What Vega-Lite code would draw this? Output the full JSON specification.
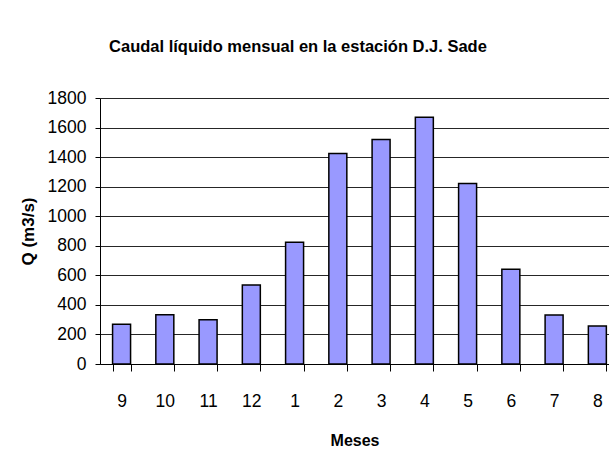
{
  "$schema": "https://vega.github.io/schema/vega-lite/v6.json",
  "width": 509,
  "height": 266,
  "autosize": {"type": "none"},
  "padding": {"left": 100, "top": 98, "right": 0, "bottom": 108},
  "background": "white",
  "title": {
    "text": "Caudal líquido mensual en la estación D.J. Sade",
    "font": "Liberation Sans",
    "fontSize": 16.5,
    "fontWeight": "bold",
    "color": "black",
    "anchor": "middle",
    "frame": "group",
    "baseline": "alphabetic",
    "dx": -56.5,
    "offset": 21
  },
  "data": {
    "values": [
      {"mes": "9", "q": 269},
      {"mes": "10", "q": 334},
      {"mes": "11", "q": 300},
      {"mes": "12", "q": 535},
      {"mes": "1", "q": 824},
      {"mes": "2", "q": 1425},
      {"mes": "3", "q": 1520},
      {"mes": "4", "q": 1669},
      {"mes": "5", "q": 1222},
      {"mes": "6", "q": 641},
      {"mes": "7", "q": 332},
      {"mes": "8", "q": 257}
    ]
  },
  "mark": {"type": "bar", "fill": "#9999ff", "stroke": "black", "strokeWidth": 1.5},
  "encoding": {
    "x": {
      "field": "mes",
      "type": "nominal",
      "sort": null,
      "scale": {"paddingInner": 0.584, "paddingOuter": 0.176, "align": 0.826},
      "axis": {
        "title": "Meses",
        "titleFont": "Liberation Sans",
        "titleFontSize": 16,
        "titleFontWeight": "bold",
        "titleColor": "black",
        "titlePadding": 23,
        "labelAngle": 0,
        "labelFont": "Liberation Sans",
        "labelFontSize": 17.5,
        "labelColor": "black",
        "labelPadding": 21,
        "tickBand": "extent",
        "tickSize": 7,
        "tickColor": "black",
        "domainColor": "black",
        "grid": false
      }
    },
    "y": {
      "field": "q",
      "type": "quantitative",
      "scale": {"domain": [0, 1800], "nice": false},
      "axis": {
        "title": "Q (m3/s)",
        "titleFont": "Liberation Sans",
        "titleFontSize": 17,
        "titleFontWeight": "bold",
        "titleColor": "black",
        "titlePadding": 10,
        "values": [0, 200, 400, 600, 800, 1000, 1200, 1400, 1600, 1800],
        "format": "d",
        "labelFont": "Liberation Sans",
        "labelFontSize": 17.5,
        "labelColor": "black",
        "labelPadding": 9,
        "tickSize": 5,
        "tickColor": "black",
        "domainColor": "black",
        "grid": true,
        "gridColor": "black",
        "gridOpacity": 0.85
      }
    }
  },
  "config": {"view": {"stroke": null}}
}
